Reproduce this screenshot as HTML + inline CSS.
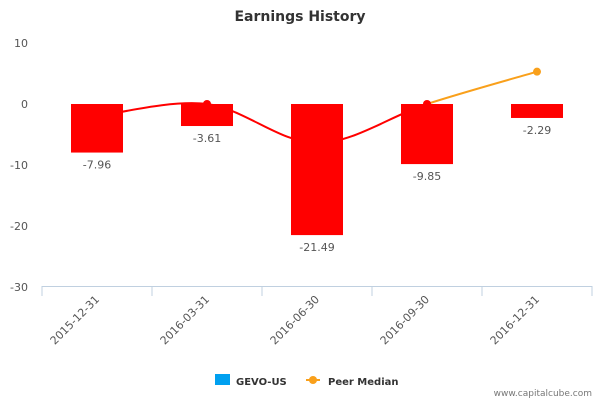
<!DOCTYPE html>
<html><head><meta charset="utf-8"><style>
body{margin:0;background:#fff;font-family:"Liberation Sans","DejaVu Sans",sans-serif}
text{font-family:"DejaVu Sans","Liberation Sans",sans-serif}
</style></head><body>
<svg id="chart" width="600" height="400" xmlns="http://www.w3.org/2000/svg">
<text x="300" y="21" text-anchor="middle" font-size="14" fill="#333" font-weight="bold" style="font-weight:600">Earnings History</text>
<g id="yaxis"></g>
<g id="line"></g>
<g id="bars"></g>
<g id="xaxis"></g>
<g>
<rect x="215" y="374" width="15" height="11" fill="#00a0f0"/>
<text x="236" y="385" font-size="10" font-weight="bold" fill="#333">GEVO-US</text>
<line x1="306" y1="380" x2="320" y2="380" stroke="#f9a01b" stroke-width="2"/>
<circle cx="313" cy="380" r="4" fill="#f9a01b"/>
<text x="328" y="385" font-size="10" font-weight="bold" fill="#333">Peer Median</text>
</g>
<text x="592" y="396" text-anchor="end" font-size="9" fill="#777">www.capitalcube.com</text>
</svg>
<script>
const categories=["2015-12-31","2016-03-31","2016-06-30","2016-09-30","2016-12-31"];
const gevoValues=[-7.96,-3.61,-21.49,-9.85,-2.29];
const peerValues=[-2.0,0.0,-6.4,0.0,5.3];
const yTicks=[10,0,-10,-20,-30];
const NS="http://www.w3.org/2000/svg";
const L=42,R=592,Y0=104,K=6.1;
const band=(R-L)/categories.length;
const x=i=>L+band*(i+0.5);
const y=v=>Y0-v*K;
function mk(t,a,p){const e=document.createElementNS(NS,t);for(const k in a)e.setAttribute(k,a[k]);p.appendChild(e);return e;}
const ya=document.getElementById('yaxis');
yTicks.forEach(t=>{const e=mk('text',{x:28,y:y(t)+4,'text-anchor':'end','font-size':11,fill:'#555'},ya);e.textContent=t;

});
const xa=document.getElementById('xaxis');
mk('line',{x1:L,y1:286.5,x2:R,y2:286.5,stroke:'#c0d0e0'},xa);
for(let i=0;i<=categories.length;i++){mk('line',{x1:L+band*i,y1:286,x2:L+band*i,y2:296,stroke:'#c0d0e0'},xa);}
categories.forEach((c,i)=>{const tx=x(i)+3,ty=300;const e=mk('text',{x:tx,y:ty,'text-anchor':'end','font-size':11,fill:'#555',transform:`rotate(-45 ${tx} ${ty})`},xa);e.textContent=c;

});
// line (spline)
const lg=document.getElementById('line');
const pts=peerValues.map((v,i)=>[x(i),y(v)]);
function seg(i){const p0=pts[Math.max(i-1,0)],p1=pts[i],p2=pts[i+1],p3=pts[Math.min(i+2,pts.length-1)];const s=6;
return `M${p1[0]},${p1[1]} C${p1[0]+(p2[0]-p0[0])/s},${p1[1]+(p2[1]-p0[1])/s} ${p2[0]-(p3[0]-p1[0])/s},${p2[1]-(p3[1]-p1[1])/s} ${p2[0]},${p2[1]}`;}
for(let i=0;i<pts.length-1;i++){const e=mk('path',{d:seg(i),fill:'none',stroke:i<3?'#ff0000':'#f9a01b','stroke-width':2},lg);

}
pts.forEach((p,i)=>{const e=mk('circle',{cx:p[0],cy:p[1],r:4,fill:i<4?'#ff0000':'#f9a01b'},lg);

});
const bg=document.getElementById('bars');
gevoValues.forEach((v,i)=>{const e=mk('rect',{x:x(i)-26,y:Math.min(y(0),y(v)),width:52,height:Math.abs(y(v)-y(0)),fill:'#ff0000'},bg);


const t=mk('text',{x:x(i),y:y(v)+16,'text-anchor':'middle','font-size':11,fill:'#555'},bg);t.textContent=v.toFixed(2);

});
</script>
</body></html>
